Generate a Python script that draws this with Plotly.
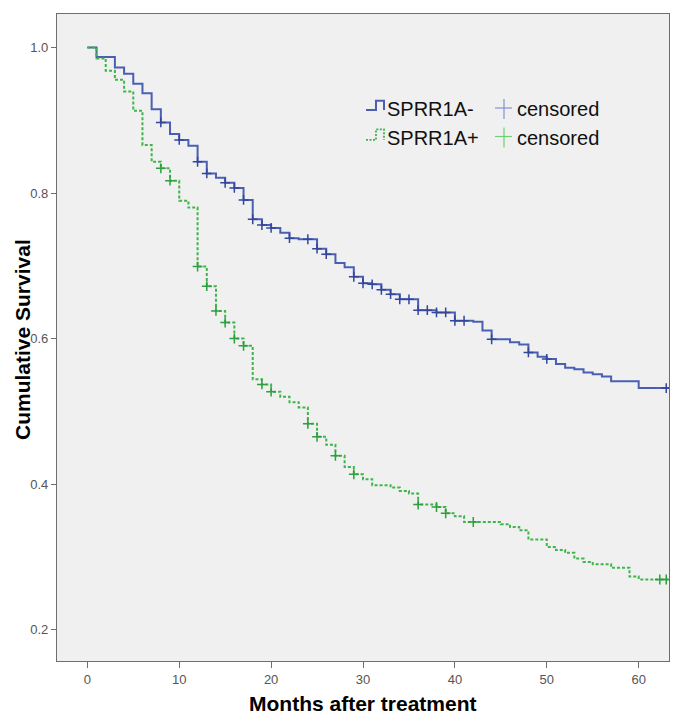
import plotly.graph_objects as go

# ---------------- data ----------------
neg_times = [0, 1, 3, 4, 5, 6, 7, 8, 9, 10, 11, 12, 13, 14, 15, 16, 17, 18, 19, 20, 21, 22, 23,
             25, 26, 27, 28, 29, 30, 31, 32, 33, 34, 36, 38, 40, 42, 43, 44, 46, 47, 48, 49,
             50, 51, 52, 53, 54, 55, 56, 57, 60, 63.3]
neg_surv = [1.0, 0.987, 0.9725, 0.964, 0.950, 0.937, 0.915, 0.897, 0.881, 0.873, 0.865, 0.843,
            0.827, 0.821, 0.814, 0.807, 0.7905, 0.764, 0.756, 0.752, 0.7455, 0.738, 0.7365,
            0.7235, 0.716, 0.704, 0.698, 0.685, 0.676, 0.6745, 0.667, 0.661, 0.654, 0.639,
            0.636, 0.6245, 0.623, 0.611, 0.599, 0.595, 0.592, 0.581, 0.575, 0.572, 0.565,
            0.560, 0.558, 0.5535, 0.551, 0.548, 0.5415, 0.532, 0.532]
neg_cens_t = [8, 10, 12, 13, 15, 16, 17, 18, 19, 20, 22, 24, 25, 26, 29, 30, 31, 32, 33, 34,
              35, 36, 37, 38, 39, 40, 41, 44, 48, 50, 63]
neg_cens_s = [0.897, 0.873, 0.843, 0.827, 0.814, 0.807, 0.7905, 0.764, 0.756, 0.752, 0.738,
              0.7365, 0.7235, 0.716, 0.685, 0.676, 0.6745, 0.667, 0.661, 0.654, 0.654, 0.639,
              0.639, 0.636, 0.636, 0.6245, 0.6245, 0.599, 0.581, 0.572, 0.532]

pos_times = [0, 1, 2, 3, 4, 5, 6, 7, 8, 9, 10, 11, 12, 13, 14, 15, 16, 17, 18, 19, 20, 21, 22,
             23, 24, 25, 26, 27, 28, 29, 30, 31, 33, 34, 35, 36, 38, 39, 40, 41, 45, 46, 47,
             48, 50, 51, 52, 53, 54, 55, 57, 59, 60, 63.3]
pos_surv = [1.0, 0.985, 0.968, 0.9556, 0.9395, 0.913, 0.866, 0.843, 0.834, 0.817, 0.7895,
            0.780, 0.699, 0.672, 0.638, 0.622, 0.600, 0.590, 0.544, 0.537, 0.527, 0.520,
            0.5125, 0.5054, 0.483, 0.465, 0.454, 0.439, 0.4237, 0.4136, 0.4067, 0.3985,
            0.3953, 0.3906, 0.387, 0.372, 0.3686, 0.360, 0.356, 0.348, 0.345, 0.341, 0.3366,
            0.324, 0.3136, 0.3095, 0.3056, 0.2977, 0.293, 0.290, 0.285, 0.273, 0.269, 0.269]
pos_cens_t = [8, 9, 12, 13, 14, 15, 16, 17, 19, 20, 24, 25, 27, 29, 36, 38, 39, 42, 62.3, 63]
pos_cens_s = [0.834, 0.817, 0.699, 0.672, 0.638, 0.622, 0.600, 0.590, 0.537, 0.527, 0.483,
              0.465, 0.439, 0.4136, 0.372, 0.3686, 0.360, 0.348, 0.269, 0.269]

x_ticks = [0, 10, 20, 30, 40, 50, 60]
y_ticks = [0.2, 0.4, 0.6, 0.8, 1.0]
group_labels = ["SPRR1A-", "SPRR1A+"]
censor_label = "censored"
x_title = "Months after treatment"
y_title = "Cumulative Survival"

BLUE = "#4A5FB4"
GREEN = "#3DB54A"
BLUE_C = "#33479A"
GREEN_C = "#2E9E3E"

fig = go.Figure()
fig.add_trace(go.Scatter(x=neg_times, y=neg_surv, mode="lines", line_shape="hv",
                         line=dict(color=BLUE, width=2), showlegend=False,
                         name=group_labels[0]))
fig.add_trace(go.Scatter(x=neg_cens_t, y=neg_cens_s, mode="markers", showlegend=False,
                         marker=dict(symbol="cross-thin", size=7,
                                     line=dict(color=BLUE_C, width=1.5)),
                         name=censor_label))
fig.add_trace(go.Scatter(x=pos_times, y=pos_surv, mode="lines", line_shape="hv",
                         line=dict(color=GREEN, width=2, dash="3px,2px"), showlegend=False,
                         name=group_labels[1]))
fig.add_trace(go.Scatter(x=pos_cens_t, y=pos_cens_s, mode="markers", showlegend=False,
                         marker=dict(symbol="cross-thin", size=7,
                                     line=dict(color=GREEN_C, width=1.5)),
                         name=censor_label))

# ---------------- layout geometry (pixels) ----------------
# The page body has an 8px default margin, so the figure is shrunk by that offset
OFF = 8
W, H = 685 - OFF, 721 - OFF
L, R, T, B = 57 - OFF, 16, 14 - OFF, 60
PW, PH = W - L - R, H - T - B


def px(x):
    # x given in window pixels
    return (x - OFF - L) / PW


def py(y):
    # y given in window pixels
    return (H - B - (y - OFF)) / PH


shapes = []
annotations = []

# legend (manual, SPSS style)
rows = [(110.0, 100.7, 109.0, BLUE, "solid", "#8393D4", group_labels[0]),
        (140.0, 129.3, 137.5, GREEN, "dot", "#6BCF78", group_labels[1])]
for low, high, mid, col, dash, pcol, lab in rows:
    path = "M {:.4f},{:.4f} L {:.4f},{:.4f} L {:.4f},{:.4f} L {:.4f},{:.4f} L {:.4f},{:.4f}".format(
        px(366), py(low), px(376), py(low), px(376), py(high), px(384), py(high),
        px(384), py(low))
    shapes.append(dict(type="path", xref="paper", yref="paper", path=path,
                       line=dict(color=col, width=2 if dash == "solid" else 1.8,
                                 dash="solid" if dash == "solid" else "2px,1.5px")))
    # plus sign
    shapes.append(dict(type="line", xref="paper", yref="paper",
                       x0=px(504), x1=px(504), y0=py(mid - 10), y1=py(mid + 10),
                       line=dict(color=pcol, width=1.2)))
    shapes.append(dict(type="line", xref="paper", yref="paper",
                       x0=px(495), x1=px(512), y0=py(mid - 1), y1=py(mid - 1),
                       line=dict(color=pcol, width=1.2)))
    annotations.append(dict(text=lab, xref="paper", yref="paper", x=px(385), y=py(mid),
                            xanchor="left", yanchor="middle", showarrow=False,
                            font=dict(family="Arial, Liberation Sans", size=20, color="#111")))
    annotations.append(dict(text=censor_label, xref="paper", yref="paper", x=px(515), y=py(mid),
                            xanchor="left", yanchor="middle", showarrow=False,
                            font=dict(family="Arial, Liberation Sans", size=20, color="#111")))

# axis titles
annotations.append(dict(text="<b>" + x_title + "</b>", xref="paper", yref="paper",
                        x=px(363), y=py(703), xanchor="center", yanchor="middle",
                        showarrow=False,
                        font=dict(family="Arial, Liberation Sans", size=21, color="#000")))
annotations.append(dict(text="<b>" + y_title + "</b>", xref="paper", yref="paper",
                        x=px(22), y=py(340), xanchor="center", yanchor="middle",
                        textangle=-90, showarrow=False,
                        font=dict(family="Arial, Liberation Sans", size=21, color="#000")))

fig.update_layout(
    width=W, height=H,
    margin=dict(l=L, r=R, t=T, b=B, pad=0),
    paper_bgcolor="white",
    plot_bgcolor="#F0F0F0",
    showlegend=False,
    shapes=shapes,
    annotations=annotations,
    font=dict(family="Arial, Liberation Sans", size=13, color="#555"),
)
fig.update_xaxes(range=[-3.3, 63.3], tickvals=x_ticks, ticktext=[str(v) for v in x_ticks],
                 showgrid=False, zeroline=False, showline=True, mirror=True,
                 linecolor="#6E6E6E", linewidth=1.2, ticks="outside", ticklen=6,
                 tickcolor="#6E6E6E", tickwidth=1,
                 tickfont=dict(family="Arial, Liberation Sans", size=13, color="#555"))
fig.update_yaxes(range=[0.157, 1.046], tickvals=y_ticks,
                 ticktext=["{:.1f}".format(v) for v in y_ticks],
                 showgrid=False, zeroline=False, showline=True, mirror=True,
                 linecolor="#6E6E6E", linewidth=1.2, ticks="outside", ticklen=5,
                 tickcolor="#6E6E6E", tickwidth=1,
                 tickfont=dict(family="Arial, Liberation Sans", size=13, color="#555"))

fig.write_html("out.html")
